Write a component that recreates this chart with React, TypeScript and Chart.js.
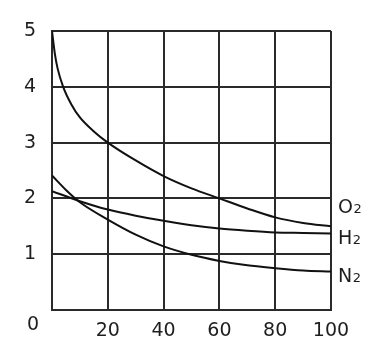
import React, { useEffect, useRef } from "react";
import { Chart, registerables } from "chart.js";

Chart.register(...registerables);

// X positions (percent) and values for each gas curve
const o2X = [0, 1, 2, 4, 7, 10, 15, 20, 30, 40, 50, 60, 70, 80, 90, 100];
const o2Y = [5.0, 4.6, 4.33, 4.0, 3.68, 3.45, 3.2, 3.0, 2.68, 2.4, 2.18, 2.0, 1.82, 1.66, 1.56, 1.5];

const h2X = [0, 10, 20, 30, 40, 50, 60, 70, 80, 90, 100];
const h2Y = [2.13, 1.95, 1.8, 1.69, 1.6, 1.52, 1.46, 1.42, 1.39, 1.38, 1.37];

const n2X = [0, 5, 10, 20, 30, 40, 50, 60, 70, 80, 90, 100];
const n2Y = [2.41, 2.15, 1.93, 1.62, 1.35, 1.14, 0.99, 0.88, 0.8, 0.75, 0.71, 0.69];

const seriesNames = ["O", "H", "N"];
const seriesSub = ["2", "2", "2"];
const seriesLabelValue = [1.87, 1.3, 0.635];

const xTicks = [0, 20, 40, 60, 80, 100];
const yTicks = [0, 1, 2, 3, 4, 5];
const originLabel = "0";

const FONT = "'DejaVu Sans', Verdana, sans-serif";
const INK = "#1e1e1e";

const toPoints = (xs: number[], ys: number[]) => xs.map((x, i) => ({ x, y: ys[i] }));

const labelsPlugin = {
  id: "gasLabels",
  afterDraw(chart: any) {
    const { ctx, chartArea, scales } = chart;
    ctx.save();
    ctx.fillStyle = INK;
    ctx.textBaseline = "alphabetic";
    ctx.textAlign = "left";
    seriesNames.forEach((name, i) => {
      const yc = scales.y.getPixelForValue(seriesLabelValue[i]);
      const x = chartArea.right + 7;
      ctx.font = `19px ${FONT}`;
      const base = yc + 7;
      ctx.fillText(name, x, base);
      const w = ctx.measureText(name).width;
      ctx.font = `13px ${FONT}`;
      ctx.fillText(seriesSub[i], x + w + 0.5, base);
    });
    ctx.font = `19px ${FONT}`;
    ctx.textAlign = "center";
    ctx.textBaseline = "middle";
    ctx.fillText(originLabel, chartArea.left - 19, chartArea.bottom + 15.5);
    ctx.restore();
  },
};

export default function App() {
  const ref = useRef<HTMLCanvasElement>(null);
  useEffect(() => {
    if (!ref.current) return;
    const ds = (xs: number[], ys: number[]) => ({
      data: toPoints(xs, ys),
      borderColor: "#111",
      borderWidth: 2,
      pointRadius: 0,
      fill: false,
      cubicInterpolationMode: "monotone" as const,
    });
    const chart = new Chart(ref.current, {
      type: "line",
      data: {
        datasets: [ds(o2X, o2Y), ds(h2X, h2Y), ds(n2X, n2Y)],
      },
      options: {
        animation: false,
        responsive: false,
        devicePixelRatio: 1,
        layout: { padding: { left: 0, top: 31, right: 55, bottom: 0 } },
        plugins: { legend: { display: false }, tooltip: { enabled: false } },
        scales: {
          x: {
            type: "linear",
            min: 0,
            max: 100,
            afterFit: (s: any) => {
              s.height = 46;
            },
            afterBuildTicks: (s: any) => {
              s.ticks = xTicks.map((v) => ({ value: v }));
            },
            ticks: {
              font: { family: FONT, size: 19 },
              color: INK,
              padding: 10,
              maxRotation: 0,
              callback: (v: any) => (v === 0 ? "" : String(v)),
            },
            grid: { color: "#2a2a2a", lineWidth: 2, drawTicks: false },
            border: { color: "#2a2a2a", width: 2 },
          },
          y: {
            type: "linear",
            min: 0,
            max: 5,
            afterFit: (s: any) => {
              s.width = 52;
            },
            afterBuildTicks: (s: any) => {
              s.ticks = yTicks.map((v) => ({ value: v }));
            },
            ticks: {
              font: { family: FONT, size: 19 },
              color: INK,
              padding: 16,
              callback: (v: any) => (v === 0 ? "" : String(v)),
            },
            grid: { color: "#2a2a2a", lineWidth: 2, drawTicks: false },
            border: { color: "#2a2a2a", width: 2 },
          },
        },
      },
      plugins: [labelsPlugin],
    });
    return () => chart.destroy();
  }, []);
  return (
    <div style={{ position: "fixed", left: 0, top: 0, width: 386, height: 356, background: "#fff" }}>
      <canvas ref={ref} width={386} height={356} />
    </div>
  );
}
